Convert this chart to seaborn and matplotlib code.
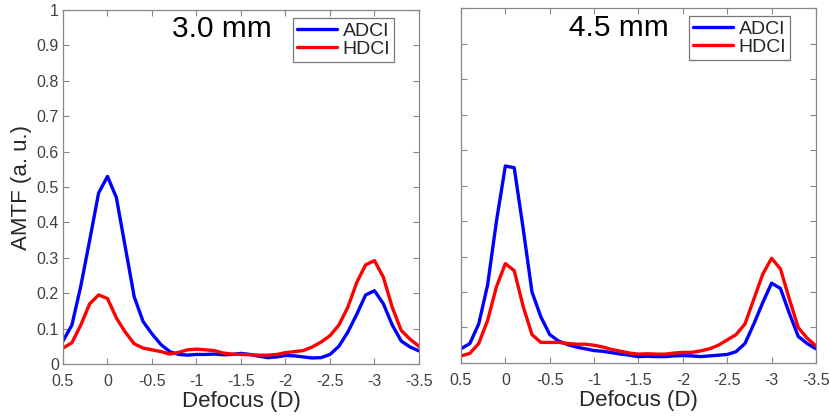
import numpy as np
import pandas as pd
import seaborn as sns
import matplotlib.pyplot as plt

# Defocus (D), 0.1 D steps from +0.5 to -3.5
defocus = [round(0.5 - 0.1 * i, 1) for i in range(41)]

# 3.0 mm pupil
adci_30 = [0.065, 0.11, 0.22, 0.35, 0.483, 0.53, 0.47, 0.33, 0.19, 0.12,
           0.085, 0.055, 0.035, 0.027, 0.025, 0.027, 0.027, 0.028, 0.026, 0.027,
           0.03, 0.027, 0.022, 0.018, 0.02, 0.024, 0.023, 0.02, 0.017, 0.018,
           0.027, 0.05, 0.09, 0.14, 0.195, 0.207, 0.17, 0.11, 0.065, 0.048, 0.037]
hdci_30 = [0.045, 0.06, 0.11, 0.17, 0.195, 0.185, 0.13, 0.09, 0.057, 0.045,
           0.04, 0.035, 0.028, 0.033, 0.04, 0.042, 0.04, 0.038, 0.031, 0.028,
           0.027, 0.026, 0.025, 0.025, 0.027, 0.032, 0.035, 0.038, 0.048, 0.062,
           0.08, 0.11, 0.16, 0.23, 0.28, 0.292, 0.245, 0.16, 0.095, 0.07, 0.05]

# 4.5 mm pupil
adci_45 = [0.04, 0.055, 0.11, 0.22, 0.40, 0.555, 0.55, 0.38, 0.20, 0.13,
           0.08, 0.062, 0.052, 0.045, 0.04, 0.035, 0.033, 0.029, 0.025, 0.022,
           0.018, 0.019, 0.018, 0.018, 0.02, 0.021, 0.02, 0.018, 0.02, 0.022,
           0.024, 0.032, 0.055, 0.11, 0.17, 0.225, 0.21, 0.14, 0.075, 0.055, 0.04]
hdci_45 = [0.02, 0.027, 0.055, 0.12, 0.215, 0.28, 0.26, 0.16, 0.08, 0.058,
           0.058, 0.058, 0.055, 0.053, 0.053, 0.05, 0.045, 0.038, 0.033, 0.028,
           0.025, 0.026, 0.025, 0.025, 0.028, 0.03, 0.03, 0.034, 0.04, 0.05,
           0.065, 0.08, 0.11, 0.18, 0.25, 0.295, 0.265, 0.18, 0.10, 0.07, 0.048]

x_ticks = [0.5, 0, -0.5, -1, -1.5, -2, -2.5, -3, -3.5]
x_tick_labels = ['0.5', '0', '-0.5', '-1', '-1.5', '-2', '-2.5', '-3', '-3.5']
y_ticks = [0, 0.1, 0.2, 0.3, 0.4, 0.5, 0.6, 0.7, 0.8, 0.9, 1]
y_tick_labels = ['0', '0.1', '0.2', '0.3', '0.4', '0.5', '0.6', '0.7', '0.8', '0.9', '1']

sns.set_style('white')
plt.rcParams['font.family'] = ['Liberation Sans', 'DejaVu Sans']

fig = plt.figure(figsize=(8.3, 4.17), dpi=100)
ax1 = fig.add_axes([0.0759, 0.1271, 0.4289, 0.8489])
ax2 = fig.add_axes([0.5554, 0.1295, 0.4277, 0.8513])

panels = [
    (ax1, adci_30, hdci_30, '3.0 mm', (0.646, 0.977), 0.447),
    (ax2, adci_45, hdci_45, '4.5 mm', (0.642, 0.977), 0.445),
]

for ax, adci, hdci, title, leg_pos, title_x in panels:
    df = pd.DataFrame({
        'Defocus': defocus * 2,
        'AMTF': adci + hdci,
        'Lens': ['ADCI'] * len(defocus) + ['HDCI'] * len(defocus),
    })
    sns.lineplot(data=df, x='Defocus', y='AMTF', hue='Lens',
                 palette={'ADCI': '#0000ff', 'HDCI': '#ff0000'},
                 linewidth=2.4, ax=ax)

    ax.set_xlim(0.5, -3.5)
    ax.set_ylim(0, 1)
    ax.set_xticks(x_ticks)
    ax.set_xticklabels(x_tick_labels)
    ax.set_yticks(y_ticks)
    ax.tick_params(direction='in', length=4, width=0.8, colors='#888888',
                   labelcolor='#404040', labelsize=11.5,
                   bottom=True, left=True, top=True, right=True)
    ax.tick_params(axis='x', pad=7)
    ax.tick_params(axis='y', pad=3)
    for sp in ax.spines.values():
        sp.set_color('#888888')
        sp.set_linewidth(0.9)

    ax.set_xlabel('Defocus (D)', fontsize=16, color='#262626', labelpad=2)
    ax.text(title_x, 0.945, title, transform=ax.transAxes, fontsize=21.5,
            ha='center', va='center', color='black')

    leg = ax.legend(loc='upper left', bbox_to_anchor=leg_pos, fontsize=14,
                    frameon=True, fancybox=False, borderaxespad=0,
                    handlelength=2.05, handletextpad=0.3, borderpad=0.2,
                    labelspacing=0.05, title=None)
    leg.get_frame().set_edgecolor('#555555')
    leg.get_frame().set_linewidth(0.9)

ax1.set_yticklabels(y_tick_labels)
ax1.set_ylabel('AMTF (a. u.)', fontsize=16, color='#262626', labelpad=3)
ax2.set_yticklabels([])
ax2.set_ylabel('')

fig.savefig('out.png', dpi=100, facecolor='white')
